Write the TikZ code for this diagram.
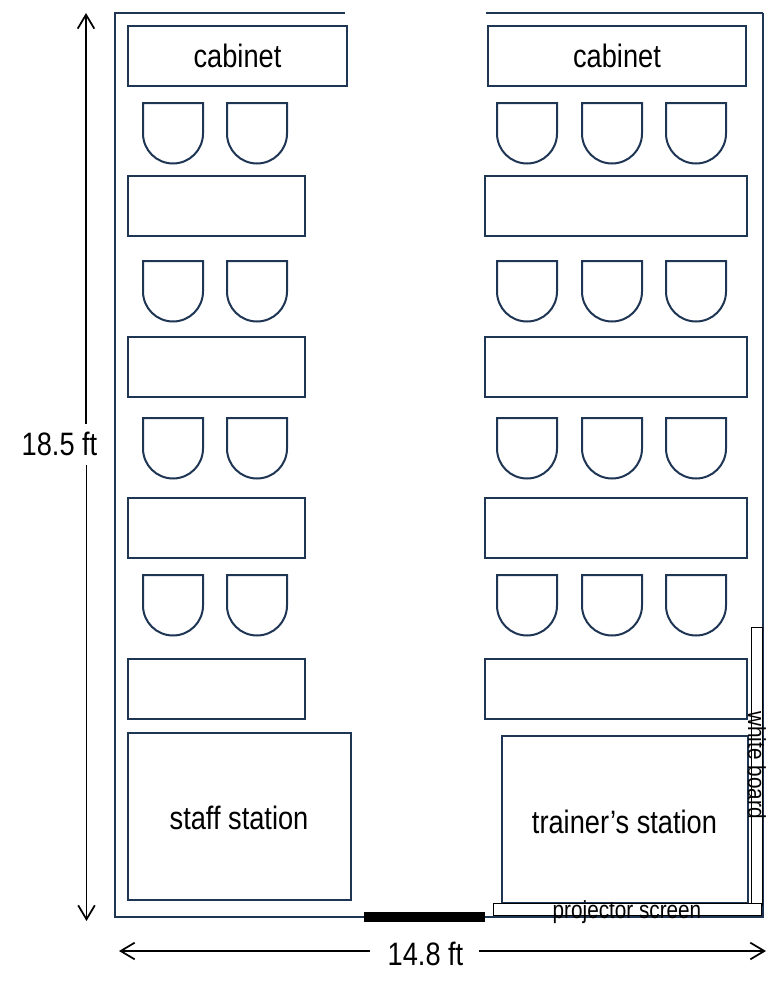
\documentclass[tikz,border=0pt]{standalone}
\usepackage{fontspec}
\setmainfont[FakeStretch=0.84]{Liberation Sans}
\usetikzlibrary{arrows.meta}
\definecolor{wallblue}{HTML}{1F3554}
\tikzset{
    furniture/.style={draw=wallblue, line width=1.7pt, inner sep=0pt},
    desksmall/.style={furniture, minimum width=132.75pt, minimum height=45pt},
    desklarge/.style={furniture, minimum width=196.5pt, minimum height=45pt},
    wallline/.style={draw=wallblue, line width=1.7pt},
    thinbox/.style={draw=black, line width=0.6pt, fill=white, inner sep=0pt},
    bigtext/.style={font=\fontsize{24.3}{26}\selectfont},
    smalltext/.style={font=\fontsize{18.5}{20}\selectfont},
    dimline/.style={black, line width=1.3pt, -{Straight Barb[length=10.5pt,width=12.5pt,line width=1.3pt]}},
    chair/.pic={
        \draw[wallblue, line width=1.5pt] (-30,0) -- (30,0) -- (30,30.5)
            arc[start angle=0, end angle=-180, radius=22.5pt] -- cycle;
    }
}
\begin{document}
\begin{tikzpicture}[x=0.75pt,y=-0.75pt]
    \useasboundingbox (0,0) rectangle (780,992);
    % room walls
    \draw[wallline] (345,13)--(115,13)--(115,917)--(763,917)--(763,13);
    \draw[wallline] (763,13)--(486,13);
    \draw[black, line width=7.5pt] (364,917)--(485,917);
    % cabinets
    \node[furniture, bigtext, minimum width=164.25pt, minimum height=45pt] (cabinetL) at (237.5,56) {\raisebox{-1pt}{cabinet}};
    \node[furniture, bigtext, minimum width=193.5pt, minimum height=45pt] (cabinetR) at (617,56) {\raisebox{-1pt}{cabinet}};
    % desks
    \foreach \y [count=\i] in {206,367,528,689}{
        \node[desksmall] (deskL\i) at (216.5,\y) {};
        \node[desklarge] (deskR\i) at (616,\y) {};
    }
    % chairs
    \foreach \y in {103,261,418,575}{
        \foreach \x in {173,257,527,612,696}{
            \pic at (\x,\y) {chair};
        }
    }
    % stations
    \node[furniture, minimum width=167.25pt, minimum height=125.25pt] (staff) at (239.5,816.5) {};
    \node[bigtext] (stafflabel) at (239,818) {staff station};
    \node[furniture, minimum width=184.5pt, minimum height=125.25pt] (trainer) at (625,819.5) {};
    \node[bigtext] (trainerlabel) at (624.5,822) {trainer’s station};
    % boards
    \node[thinbox, minimum width=8.7pt, minimum height=208.5pt] (whiteboard) at (757,766) {};
    \node[thinbox, minimum width=201pt, minimum height=9pt] (screen) at (627,909) {};
    \node[smalltext, rotate=-90] (whitelabel) at (757,765) {white board};
    \node[smalltext] (screenlabel) at (627,912) {projector screen};
    % dimensions
    \node[bigtext] (height) at (59.5,444) {18.5 ft};
    \node[bigtext] (width) at (425.5,954) {14.8 ft};
    \coordinate (heighttop) at (86,13);
    \coordinate (heightbottom) at (86.5,921);
    \coordinate (widthleft) at (119,951);
    \coordinate (widthright) at (766,951);
    \draw[dimline] (86,424)--(heighttop);
    \draw[dimline] (86.5,465)--(heightbottom);
    \draw[dimline] (370,951)--(widthleft);
    \draw[dimline] (479,951)--(widthright);
\end{tikzpicture}
\end{document}
